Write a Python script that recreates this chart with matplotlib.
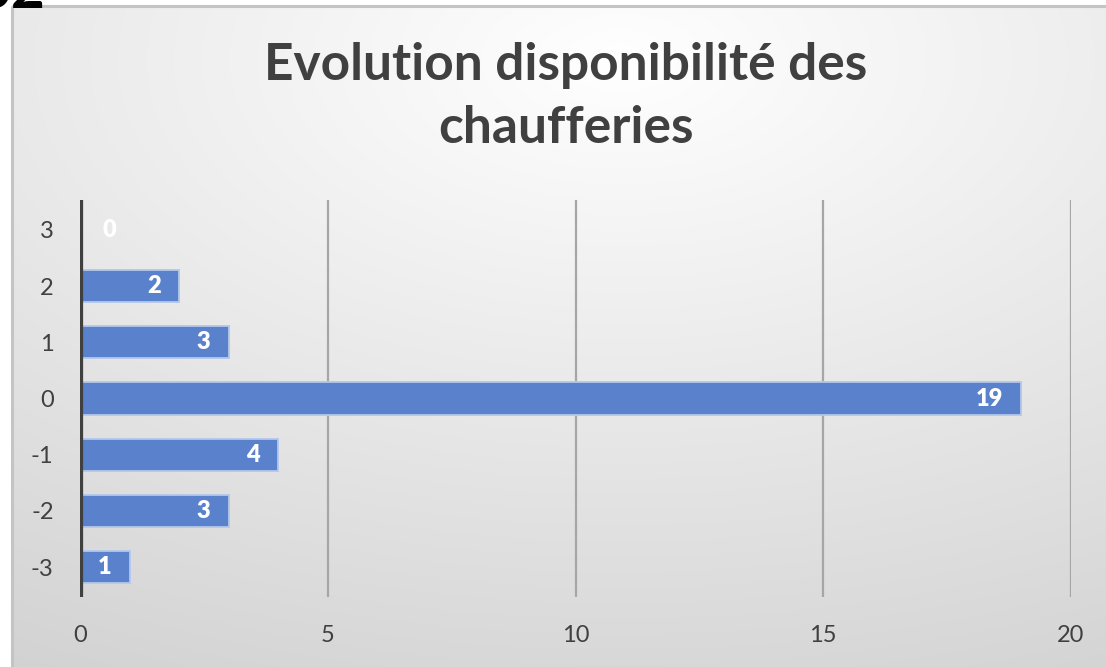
import numpy as np
import matplotlib
matplotlib.use("Agg")
import matplotlib.pyplot as plt
from matplotlib.patches import Rectangle

# data
categories = [-3, -2, -1, 0, 1, 2, 3]
counts = [1, 3, 4, 19, 3, 2, 0]
xticks = [0, 5, 10, 15, 20]
title = "Evolution disponibilité des\nchaufferies"

plt.rcParams['font.family'] = ['Lato', 'DejaVu Sans']

W, H = 1106, 667
fig = plt.figure(figsize=(W / 100, H / 100), dpi=100)
fig.patch.set_facecolor("white")

# background gradient of the chart area (white near the title, grey at the edges)
bg = fig.add_axes([0, 0, 1, 1], zorder=0)
yy, xx = np.mgrid[0:H, 0:W]
dist = np.sqrt(((xx - 620) / 1.8) ** 2 + (yy - 60) ** 2) / 620.0
val = np.clip(255 - 40 * dist, 205, 255) / 255.0
img = np.dstack([val, val, val])
img[:6, :, :] = 1.0
img[:, :12, :] = 1.0
bg.imshow(img, extent=[0, W, H, 0], aspect="auto", interpolation="bilinear")
bg.add_patch(Rectangle((12, 6), W, H, fill=False, edgecolor="#c4c4c4", linewidth=2.2))
bg.set_xlim(0, W)
bg.set_ylim(H, 0)
bg.axis("off")

# cut-off fragment at the top-left corner (only its bottom edge shows)
fig.text(-0.02, 1 - 8 / H, "02", fontsize=42, fontweight="bold", color="black",
         ha="left", va="baseline")

ax = fig.add_axes([80 / W, 1 - 597 / H, (1071 - 80) / W, (597 - 200) / H], zorder=1)
ax.patch.set_alpha(0)

ax.barh(categories, counts, height=0.57, color="#5a81cb", edgecolor="#b4c7ea",
        linewidth=1.3, zorder=3)

for c, v in zip(categories, counts):
    if v == 0:
        ax.annotate(str(v), xy=(v, c), xytext=(16, 0), textcoords="offset points",
                    ha="left", va="center", color="white", fontsize=17, fontweight="heavy",
                    zorder=4)
    else:
        ax.annotate(str(v), xy=(v, c), xytext=(-13, 0), textcoords="offset points",
                    ha="right", va="center", color="white", fontsize=17, fontweight="heavy",
                    zorder=4)

ax.set_xlim(0, 20)
ax.set_ylim(-3.53, 3.53)
ax.set_xticks(xticks)
ax.set_yticks(categories)
ax.set_yticklabels([str(c) for c in categories])

for x in xticks[1:]:
    ax.axvline(x, color="#a6a6a6", linewidth=1.6, zorder=1)
ax.axvline(0, color="#404040", linewidth=4.5, zorder=5)

for s in ax.spines.values():
    s.set_visible(False)
ax.tick_params(axis="both", length=0, labelsize=17, colors="#404040")
ax.tick_params(axis="y", pad=19)
ax.tick_params(axis="x", pad=20)

fig.text(566 / W, 1 - 97 / H, title, ha="center", va="center", fontsize=37,
         fontweight="bold", color="#404040", linespacing=1.42)

fig.savefig("out.png", dpi=100)
